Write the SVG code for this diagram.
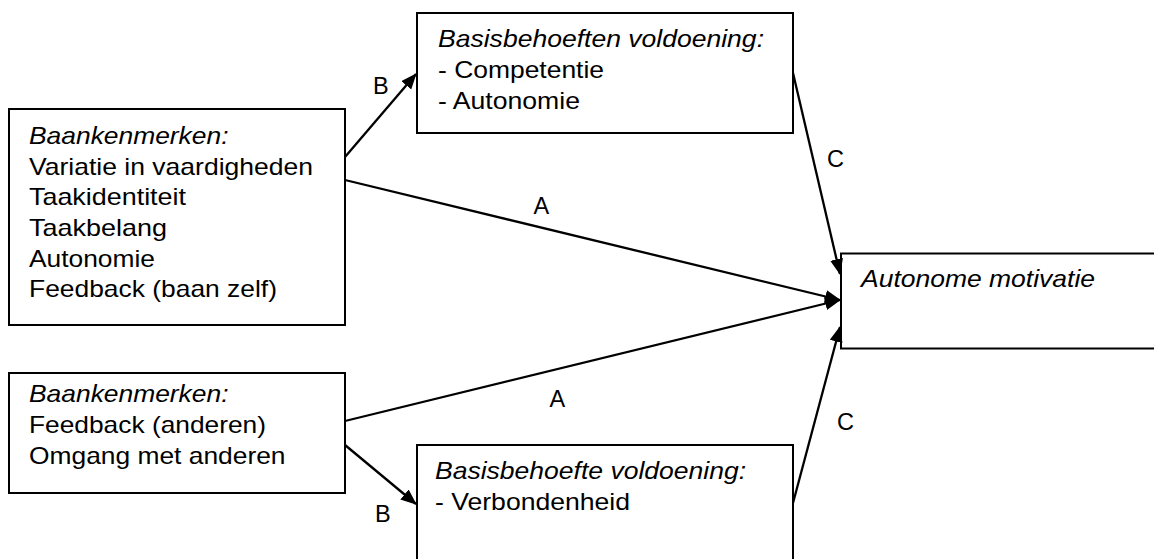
<svg xmlns="http://www.w3.org/2000/svg" width="1154" height="559" viewBox="0 0 1154 559">
  <style>
    .box { fill: #ffffff; stroke: #000000; stroke-width: 2; }
    .t { font-family: "Liberation Sans", Arial, sans-serif; font-size: 24px; fill: #000000; }
    .i { font-style: italic; }
    .lbl { font-family: "Liberation Sans", Arial, sans-serif; font-size: 23.5px; fill: #000000; }
    .edge { fill: none; stroke: #000000; stroke-width: 2.3; marker-end: url(#arrow); }
  </style>
  <defs>
    <marker id="arrow" markerUnits="userSpaceOnUse" markerWidth="16" markerHeight="14" refX="15" refY="6.5" orient="auto">
      <path d="M0,0 L16,6.5 L0,13 z" fill="#000000"/>
    </marker>
  </defs>
  <rect width="1154" height="559" fill="#ffffff"/>

  <g id="node-baankenmerken-1">
    <rect class="box" x="9" y="109" width="336" height="216"/>
    <text class="t i" x="29" y="143.5" textLength="199.5" lengthAdjust="spacingAndGlyphs">Baankenmerken:</text>
    <text class="t" x="29" y="174.5" textLength="284" lengthAdjust="spacingAndGlyphs">Variatie in vaardigheden</text>
    <text class="t" x="29" y="205" textLength="157" lengthAdjust="spacingAndGlyphs">Taakidentiteit</text>
    <text class="t" x="29" y="236" textLength="138" lengthAdjust="spacingAndGlyphs">Taakbelang</text>
    <text class="t" x="29" y="266.5" textLength="126" lengthAdjust="spacingAndGlyphs">Autonomie</text>
    <text class="t" x="29" y="297" textLength="248" lengthAdjust="spacingAndGlyphs">Feedback (baan zelf)</text>
  </g>

  <g id="node-basisbehoeften-1">
    <rect class="box" x="417" y="13" width="376" height="120"/>
    <text class="t i" x="438" y="46.5" textLength="326" lengthAdjust="spacingAndGlyphs">Basisbehoeften voldoening:</text>
    <text class="t" x="438" y="78" textLength="166" lengthAdjust="spacingAndGlyphs">- Competentie</text>
    <text class="t" x="438" y="108.5" textLength="142" lengthAdjust="spacingAndGlyphs">- Autonomie</text>
  </g>

  <g id="node-autonome-motivatie">
    <rect class="box" x="841" y="253.5" width="340" height="95"/>
    <text class="t i" x="861" y="287" textLength="234" lengthAdjust="spacingAndGlyphs">Autonome motivatie</text>
  </g>

  <g id="node-baankenmerken-2">
    <rect class="box" x="9" y="373" width="336" height="120"/>
    <text class="t i" x="29" y="402" textLength="199.5" lengthAdjust="spacingAndGlyphs">Baankenmerken:</text>
    <text class="t" x="29" y="433" textLength="237" lengthAdjust="spacingAndGlyphs">Feedback (anderen)</text>
    <text class="t" x="29" y="463.5" textLength="256.5" lengthAdjust="spacingAndGlyphs">Omgang met anderen</text>
  </g>

  <g id="node-basisbehoefte-2">
    <rect class="box" x="417" y="445" width="376" height="130"/>
    <text class="t i" x="435" y="479" textLength="311" lengthAdjust="spacingAndGlyphs">Basisbehoefte voldoening:</text>
    <text class="t" x="435" y="510" textLength="195" lengthAdjust="spacingAndGlyphs">- Verbondenheid</text>
  </g>

  <g id="connectors">
    <line class="edge" x1="345" y1="157" x2="416" y2="74"/>
    <line class="edge" x1="345" y1="180" x2="840" y2="300"/>
    <line class="edge" x1="793" y1="73" x2="840" y2="274"/>
    <line class="edge" x1="345" y1="421" x2="840" y2="300"/>
    <line class="edge" x1="345" y1="445" x2="416" y2="504"/>
    <line class="edge" x1="793" y1="503" x2="840" y2="327"/>
    <text class="lbl" x="373" y="94">B</text>
    <text class="lbl" x="533.5" y="214">A</text>
    <text class="lbl" x="827" y="167">C</text>
    <text class="lbl" x="549.5" y="407">A</text>
    <text class="lbl" x="837" y="430">C</text>
    <text class="lbl" x="375" y="522">B</text>
  </g>
</svg>
